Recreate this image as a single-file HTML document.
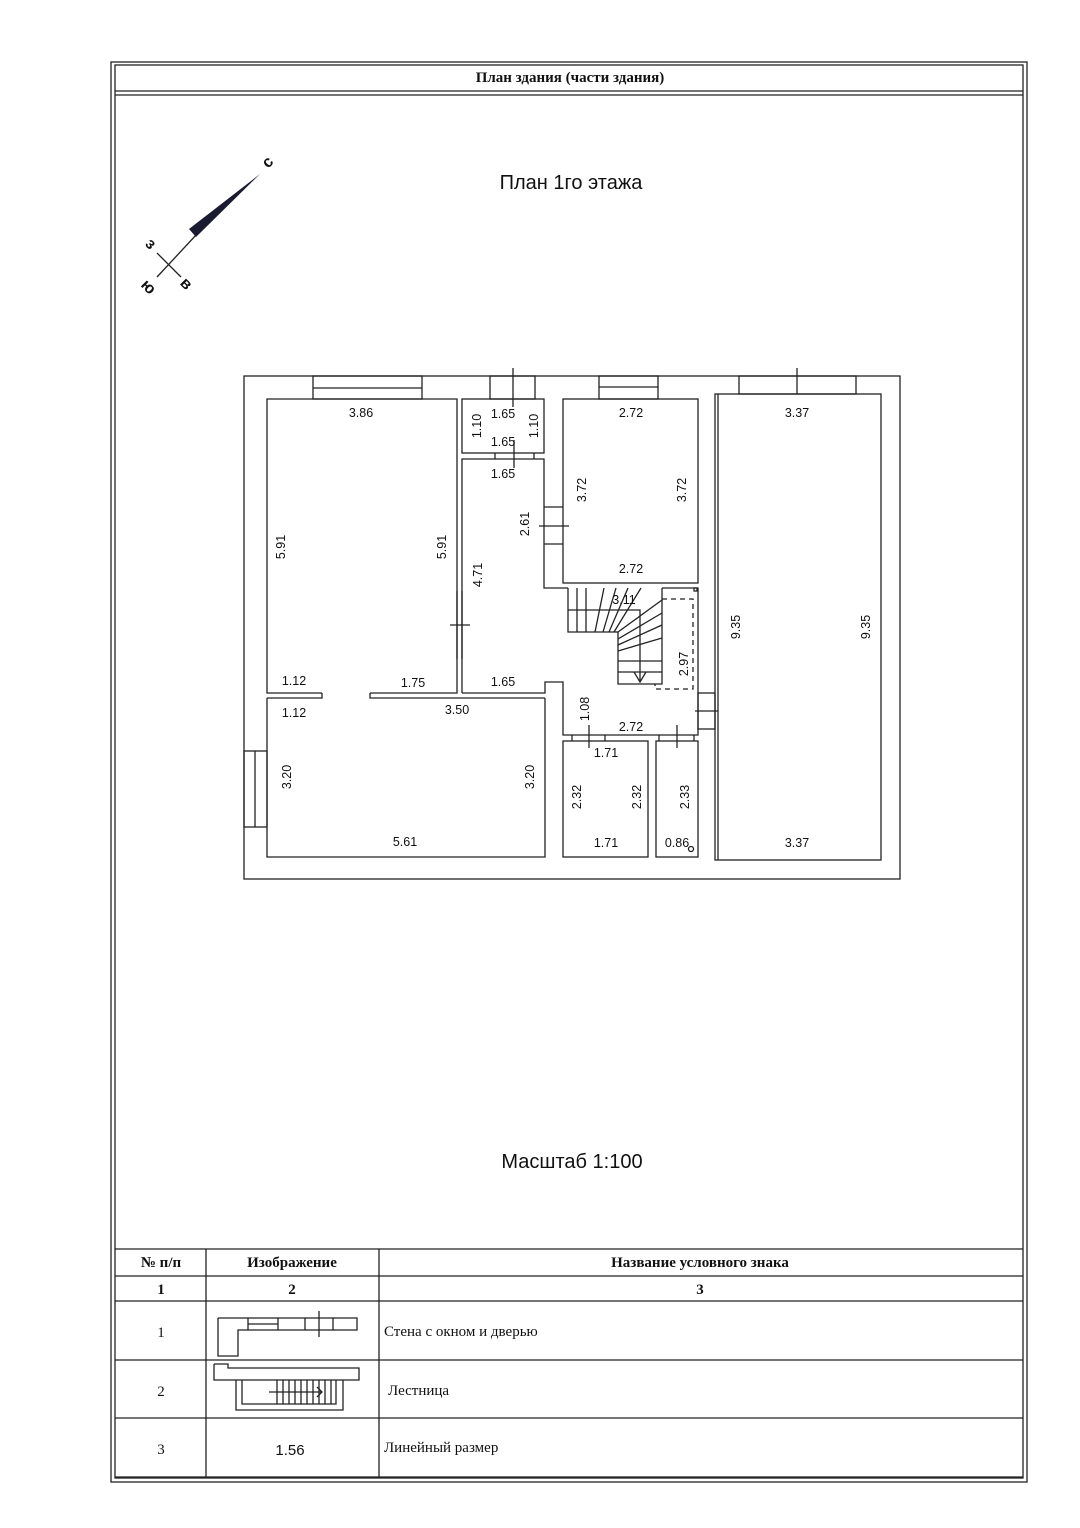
<!DOCTYPE html>
<html><head><meta charset="utf-8"><style>
html,body{margin:0;padding:0;background:#fff;}
svg{display:block;}
text{font-family:"Liberation Sans",sans-serif;fill:#111;}
.s{font-family:"Liberation Serif",serif;}
</style></head><body>
<svg width="1080" height="1528" viewBox="0 0 1080 1528" xmlns="http://www.w3.org/2000/svg">
<g fill="none" stroke="#222" stroke-width="1.3">
<rect x="111" y="62" width="916" height="1420"/>
<rect x="115" y="65" width="908" height="1413"/>
<line x1="115" y1="91" x2="1023" y2="91"/>
<line x1="115" y1="95" x2="1023" y2="95"/>
<line x1="197" y1="234" x2="157" y2="277"/>
<line x1="157" y1="253" x2="181" y2="277"/>
</g>
<polygon points="189,229 196,237 260,174" fill="#1a1a30"/>
<text x="266" y="168" font-size="16" font-weight="bold" transform="rotate(-45 268 166)">с</text>
<text x="145" y="249" font-size="16" font-weight="bold" transform="rotate(45 150 246)">з</text>
<text x="142" y="293" font-size="16" font-weight="bold" transform="rotate(45 150 287)">ю</text>
<text x="182" y="289" font-size="16" font-weight="bold" transform="rotate(45 187 283)">в</text>

<text class="s" x="570" y="82" font-size="15" font-weight="bold" text-anchor="middle">План здания (части здания)</text>
<text x="571" y="189" font-size="20" text-anchor="middle">План 1го этажа</text>
<text x="572" y="1168" font-size="20" text-anchor="middle">Масштаб 1:100</text>

<g fill="none" stroke="#222" stroke-width="1.3">
<rect x="244" y="376" width="656" height="503"/>
<rect x="313" y="376" width="109" height="23"/><line x1="313" y1="388" x2="422" y2="388"/>
<rect x="490" y="376" width="45" height="23"/>
<line x1="513" y1="368" x2="513" y2="407"/>
<rect x="599" y="376" width="59" height="23"/><line x1="599" y1="387" x2="658" y2="387"/>
<rect x="739" y="376" width="117" height="18"/>
<line x1="797" y1="368" x2="797" y2="394"/>
<rect x="244" y="751" width="23" height="76"/><line x1="255" y1="751" x2="255" y2="827"/>
<polyline points="322,693 267,693 267,399 457,399 457,693 370,693"/>
<polyline points="322,693 322,698 267,698"/>
<polyline points="370,693 370,698 545,698"/>
<line x1="457" y1="591" x2="457" y2="659"/><line x1="462" y1="591" x2="462" y2="659"/>
<line x1="450" y1="625" x2="470" y2="625"/>
<polyline points="267,698 267,857 545,857 545,698"/>
<rect x="462" y="399" width="82" height="54"/>
<line x1="495" y1="453" x2="495" y2="459"/><line x1="534" y1="453" x2="534" y2="459"/>
<line x1="514" y1="440" x2="514" y2="468"/>
<polyline points="462,693 462,459 544,459 544,588 568,588"/>
<polyline points="462,693 545,693 545,682 563,682 563,735 698,735 698,588 662,588"/>
<line x1="544" y1="507" x2="563" y2="507"/><line x1="544" y1="544" x2="563" y2="544"/>
<line x1="539" y1="526" x2="569" y2="526"/>
<rect x="563" y="399" width="135" height="184"/>
<polyline points="568,588 568,632 618,632 618,684 662,684 662,588"/>
<polyline points="568,610 640,610 640,682"/>
<line x1="577" y1="588" x2="577" y2="632"/><line x1="586" y1="588" x2="586" y2="632"/>
<line x1="604" y1="588" x2="595" y2="632"/><line x1="616" y1="588" x2="603" y2="632"/>
<line x1="628" y1="588" x2="609" y2="632"/><line x1="641" y1="588" x2="614" y2="632"/>
<line x1="662" y1="600" x2="618" y2="632"/><line x1="662" y1="613" x2="618" y2="639"/>
<line x1="662" y1="625" x2="618" y2="645"/><line x1="662" y1="638" x2="618" y2="651"/>
<line x1="618" y1="661" x2="662" y2="661"/><line x1="618" y1="672" x2="662" y2="672"/>
<polyline points="634,672 640,682 646,672"/>
<polyline stroke-dasharray="5,4" points="662,599 693,599 693,689 655,689 655,684"/>
<rect x="694" y="588" width="3" height="3"/>
<rect x="698" y="693" width="17" height="36"/>
<line x1="695" y1="711" x2="718" y2="711"/>
<rect x="563" y="741" width="85" height="116"/>
<rect x="656" y="741" width="42" height="116"/>
<line x1="572" y1="735" x2="572" y2="741"/><line x1="605" y1="735" x2="605" y2="741"/>
<line x1="589" y1="725" x2="589" y2="748"/>
<line x1="659" y1="735" x2="659" y2="741"/><line x1="694" y1="735" x2="694" y2="741"/>
<line x1="677" y1="725" x2="677" y2="748"/>
<circle cx="691" cy="849" r="2.5"/>
<rect x="715" y="394" width="166" height="466"/>
<line x1="718" y1="394" x2="718" y2="860"/>
</g>

<g font-size="12.5" text-anchor="middle">
<text x="361" y="417">3.86</text>
<text x="503" y="418">1.65</text>
<text x="503" y="446">1.65</text>
<text x="503" y="478">1.65</text>
<text x="631" y="417">2.72</text>
<text x="631" y="573">2.72</text>
<text x="797" y="417">3.37</text>
<text x="797" y="847">3.37</text>
<text x="294" y="685">1.12</text>
<text x="294" y="717">1.12</text>
<text x="413" y="687">1.75</text>
<text x="503" y="686">1.65</text>
<text x="457" y="714">3.50</text>
<text x="631" y="731">2.72</text>
<text x="606" y="757">1.71</text>
<text x="606" y="847">1.71</text>
<text x="677" y="847">0.86</text>
<text x="405" y="846">5.61</text>
<text x="624" y="604">3.11</text>
<text transform="translate(285,547) rotate(-90)">5.91</text>
<text transform="translate(446,547) rotate(-90)">5.91</text>
<text transform="translate(481,426) rotate(-90)">1.10</text>
<text transform="translate(538,426) rotate(-90)">1.10</text>
<text transform="translate(482,575) rotate(-90)">4.71</text>
<text transform="translate(529,524) rotate(-90)">2.61</text>
<text transform="translate(586,490) rotate(-90)">3.72</text>
<text transform="translate(686,490) rotate(-90)">3.72</text>
<text transform="translate(688,664) rotate(-90)">2.97</text>
<text transform="translate(589,709) rotate(-90)">1.08</text>
<text transform="translate(740,627) rotate(-90)">9.35</text>
<text transform="translate(870,627) rotate(-90)">9.35</text>
<text transform="translate(291,777) rotate(-90)">3.20</text>
<text transform="translate(534,777) rotate(-90)">3.20</text>
<text transform="translate(581,797) rotate(-90)">2.32</text>
<text transform="translate(641,797) rotate(-90)">2.32</text>
<text transform="translate(689,797) rotate(-90)">2.33</text>
</g>

<g fill="none" stroke="#222" stroke-width="1.3">
<line x1="115" y1="1249" x2="1023" y2="1249"/>
<line x1="115" y1="1276" x2="1023" y2="1276"/>
<line x1="115" y1="1301" x2="1023" y2="1301"/>
<line x1="115" y1="1360" x2="1023" y2="1360"/>
<line x1="115" y1="1418" x2="1023" y2="1418"/>
<line x1="115" y1="1477" x2="1023" y2="1477"/>
<line x1="206" y1="1249" x2="206" y2="1477"/>
<line x1="379" y1="1249" x2="379" y2="1477"/>
<polyline points="218,1318 218,1356 238,1356 238,1330 357,1330 357,1318 218,1318"/>
<line x1="248" y1="1318" x2="248" y2="1330"/><line x1="248" y1="1324" x2="278" y2="1324"/>
<line x1="278" y1="1318" x2="278" y2="1330"/><line x1="305" y1="1318" x2="305" y2="1330"/>
<line x1="333" y1="1318" x2="333" y2="1330"/><line x1="319" y1="1311" x2="319" y2="1337"/>
<polyline points="214,1364 214,1380 359,1380 359,1368 228,1368 228,1364 214,1364"/>
<polyline points="236,1380 236,1410 343,1410 343,1380"/>
<polyline points="242,1380 242,1404 336,1404 336,1380"/>
<line x1="269" y1="1392" x2="322" y2="1392"/><polyline points="317,1387 322,1392 317,1397"/>
<line x1="277" y1="1380" x2="277" y2="1404"/><line x1="283" y1="1380" x2="283" y2="1404"/>
<line x1="289" y1="1380" x2="289" y2="1404"/><line x1="295" y1="1380" x2="295" y2="1404"/>
<line x1="301" y1="1380" x2="301" y2="1404"/><line x1="307" y1="1380" x2="307" y2="1404"/>
<line x1="313" y1="1380" x2="313" y2="1404"/><line x1="319" y1="1380" x2="319" y2="1404"/>
<line x1="325" y1="1380" x2="325" y2="1404"/><line x1="331" y1="1380" x2="331" y2="1404"/>
</g>
<g class="s" font-size="15" text-anchor="middle">
<text class="s" x="161" y="1267" font-weight="bold">№ п/п</text>
<text class="s" x="292" y="1267" font-weight="bold">Изображение</text>
<text class="s" x="700" y="1267" font-weight="bold">Название условного знака</text>
<text class="s" x="161" y="1294" font-weight="bold">1</text>
<text class="s" x="292" y="1294" font-weight="bold">2</text>
<text class="s" x="700" y="1294" font-weight="bold">3</text>
<text class="s" x="161" y="1337">1</text>
<text class="s" x="161" y="1396">2</text>
<text class="s" x="161" y="1454">3</text>
</g>
<text x="290" y="1455" font-size="15" text-anchor="middle">1.56</text>
<text class="s" x="384" y="1336" font-size="15">Стена с окном и дверью</text>
<text class="s" x="388" y="1395" font-size="15">Лестница</text>
<text class="s" x="384" y="1452" font-size="15">Линейный размер</text>
</svg>
</body></html>
